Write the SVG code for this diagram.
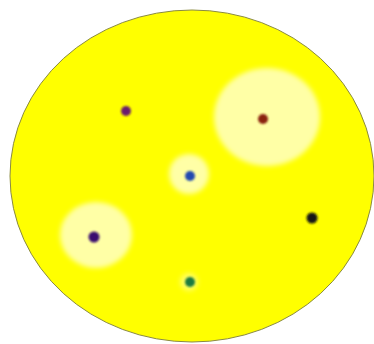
<svg xmlns="http://www.w3.org/2000/svg" width="374" height="344" viewBox="0 0 374 344">
<defs>
<filter id="soft" x="-30%" y="-30%" width="160%" height="160%"><feGaussianBlur stdDeviation="2.5"/></filter>
<filter id="softer" x="-50%" y="-50%" width="200%" height="200%"><feGaussianBlur stdDeviation="1"/></filter>
<style>
.halo{fill:#ffffa6;filter:url(#soft)}
.dot{filter:url(#softer)}
</style>
</defs>
<rect width="374" height="344" fill="#ffffff"/>
<g id="disc">
<ellipse cx="192" cy="176" rx="182" ry="166" fill="#ffff00" stroke="#8a8a40" stroke-width="1"/>
</g>
<g id="halos">
<ellipse class="halo" cx="267" cy="117" rx="53" ry="49"/>
<ellipse class="halo" cx="96" cy="235" rx="36" ry="33"/>
<ellipse class="halo" cx="189" cy="174" rx="20" ry="20"/>
<ellipse class="halo" cx="189" cy="282" rx="9" ry="9" opacity="0.6"/>
</g>
<g id="n1" class="dot"><circle cx="126" cy="111" r="5" fill="#6a1a6e"/></g>
<g id="n2" class="dot"><circle cx="263" cy="119" r="5" fill="#8a2010"/></g>
<g id="n3" class="dot"><circle cx="190" cy="176" r="5" fill="#2448b0"/></g>
<g id="n4" class="dot"><circle cx="312" cy="218" r="5.5" fill="#141414"/></g>
<g id="n5" class="dot"><circle cx="94" cy="237" r="5.5" fill="#3a0a70"/></g>
<g id="n6" class="dot"><circle cx="190" cy="282" r="5" fill="#1a7a40"/></g>
<g id="connectors"></g>
</svg>
